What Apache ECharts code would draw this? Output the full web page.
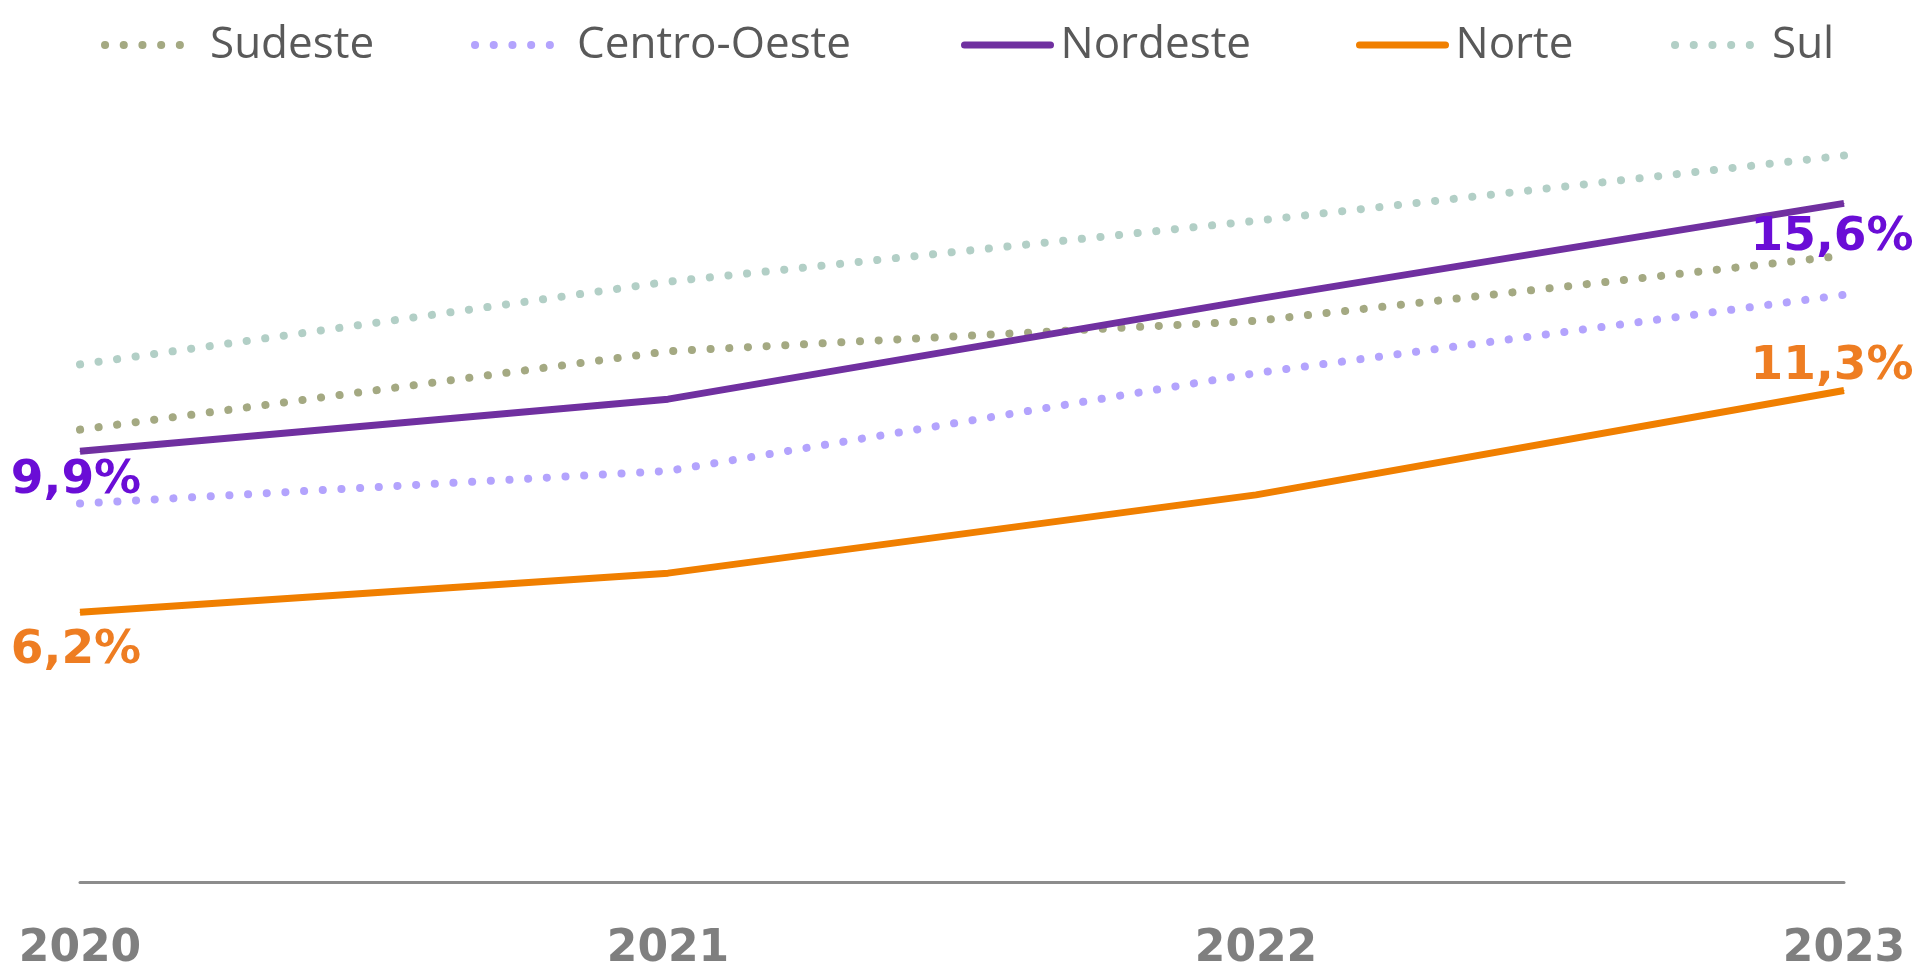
<!DOCTYPE html>
<html>
<head>
<meta charset="utf-8">
<title>Regiões</title>
<script src="https://cdn.jsdelivr.net/npm/echarts@6/dist/echarts.min.js"></script>
<style>
  html, body { margin: 0; padding: 0; background: #fff; }
  #main { width: 1919px; height: 972px; }
</style>
</head>
<body>
<div id="main"></div>
<script>
var anos = ['2020', '2021', '2022', '2023'];

var sudeste = [10.4, 12.2, 12.9, 14.4];
var centroOeste = [8.7, 9.45, 11.7, 13.5];
var nordeste = [9.9, 11.1, 13.4, 15.6];
var norte = [6.2, 7.1, 8.9, 11.3];
var sul = [11.9, 13.8, 15.2, 16.7];

var myChart = echarts.init(document.getElementById('main'));

function fmt(v) {
    return v.toFixed(1).replace('.', ',') + '%';
}

// só primeiro e último ponto levam rótulo
function comRotulo(vals, cor, posIni, posFim) {
    var out = [];
    for (let i = 0; i < vals.length; i++) {
        if (i === 0 || i === vals.length - 1) {
            var p = i === 0 ? posIni : posFim;
            out.push({
                value: vals[i],
                symbol: 'circle',
                symbolSize: 1,
                label: {
                    show: true,
                    position: p.pos,
                    distance: p.dist,
                    offset: p.off,
                    color: cor,
                    fontFamily: 'DejaVu Sans',
                    fontWeight: 'bold',
                    fontSize: 47,
                    formatter: function (d) { return fmt(d.value); }
                }
            });
        } else {
            out.push(vals[i]);
        }
    }
    return out;
}

function pontilhado(cor) {
    return { color: cor, width: 8, type: [0.1, 18.6], cap: 'round' };
}

function solido(cor) {
    return { color: cor, width: 7, type: 'solid', cap: 'round' };
}

function legenda(nome, x, pad, estilo) {
    return {
        data: [nome],
        left: x,
        top: 22,
        padding: 0,
        itemWidth: 86,
        itemHeight: 10,
        itemStyle: { opacity: 0 },
        lineStyle: estilo,
        textStyle: {
            fontFamily: 'Open Sans',
            fontSize: 44,
            lineHeight: 46,
            color: '#595959',
            padding: [0, 0, 0, pad]
        }
    };
}

var option = {
    animation: false,
    legend: [
        legenda('Sudeste', 101, 14, pontilhado('#a4a982')),
        legenda('Centro-Oeste', 471, 11, pontilhado('#b3a3fd')),
        legenda('Nordeste', 961, 5, solido('#7030a0')),
        legenda('Norte', 1356, 5, solido('#f07f00')),
        legenda('Sul', 1671, 6, pontilhado('#b2cfc6'))
    ],
    grid: { left: 80, right: 75, top: 99, bottom: 90, outerBoundsMode: 'none' },
    xAxis: {
        type: 'category',
        data: anos,
        boundaryGap: false,
        axisLine: { lineStyle: { color: '#8c8c8c', width: 3 } },
        axisTick: { show: false },
        axisLabel: {
            margin: 46,
            color: '#7f7f7f',
            fontFamily: 'DejaVu Sans',
            fontWeight: 'bold',
            fontSize: 44
        }
    },
    yAxis: {
        type: 'value',
        min: 0,
        max: 18,
        interval: 2,
        show: false,
        splitLine: { show: false }
    },
    series: [
        {
            name: 'Sudeste', type: 'line', symbol: 'none',
            lineStyle: pontilhado('#a4a982'), itemStyle: { color: '#a4a982' },
            data: sudeste
        },
        {
            name: 'Centro-Oeste', type: 'line', symbol: 'none',
            lineStyle: pontilhado('#b3a3fd'), itemStyle: { color: '#b3a3fd' },
            data: centroOeste
        },
        {
            name: 'Nordeste', type: 'line', symbol: 'none',
            lineStyle: { color: '#7030a0', width: 7 }, itemStyle: { color: '#7030a0' },
            data: comRotulo(nordeste, '#6a0dd6',
                { pos: 'bottom', dist: 5, off: [-4, 0] },
                { pos: 'bottom', dist: 10, off: [-12, 0] })
        },
        {
            name: 'Norte', type: 'line', symbol: 'none',
            lineStyle: { color: '#f07f00', width: 7 }, itemStyle: { color: '#f07f00' },
            data: comRotulo(norte, '#ee7d22',
                { pos: 'bottom', dist: 14, off: [-4, 0] },
                { pos: 'top', dist: 0, off: [-12, 0] })
        },
        {
            name: 'Sul', type: 'line', symbol: 'none',
            lineStyle: pontilhado('#b2cfc6'), itemStyle: { color: '#b2cfc6' },
            data: sul
        }
    ]
};

myChart.setOption(option);
</script>
</body>
</html>
